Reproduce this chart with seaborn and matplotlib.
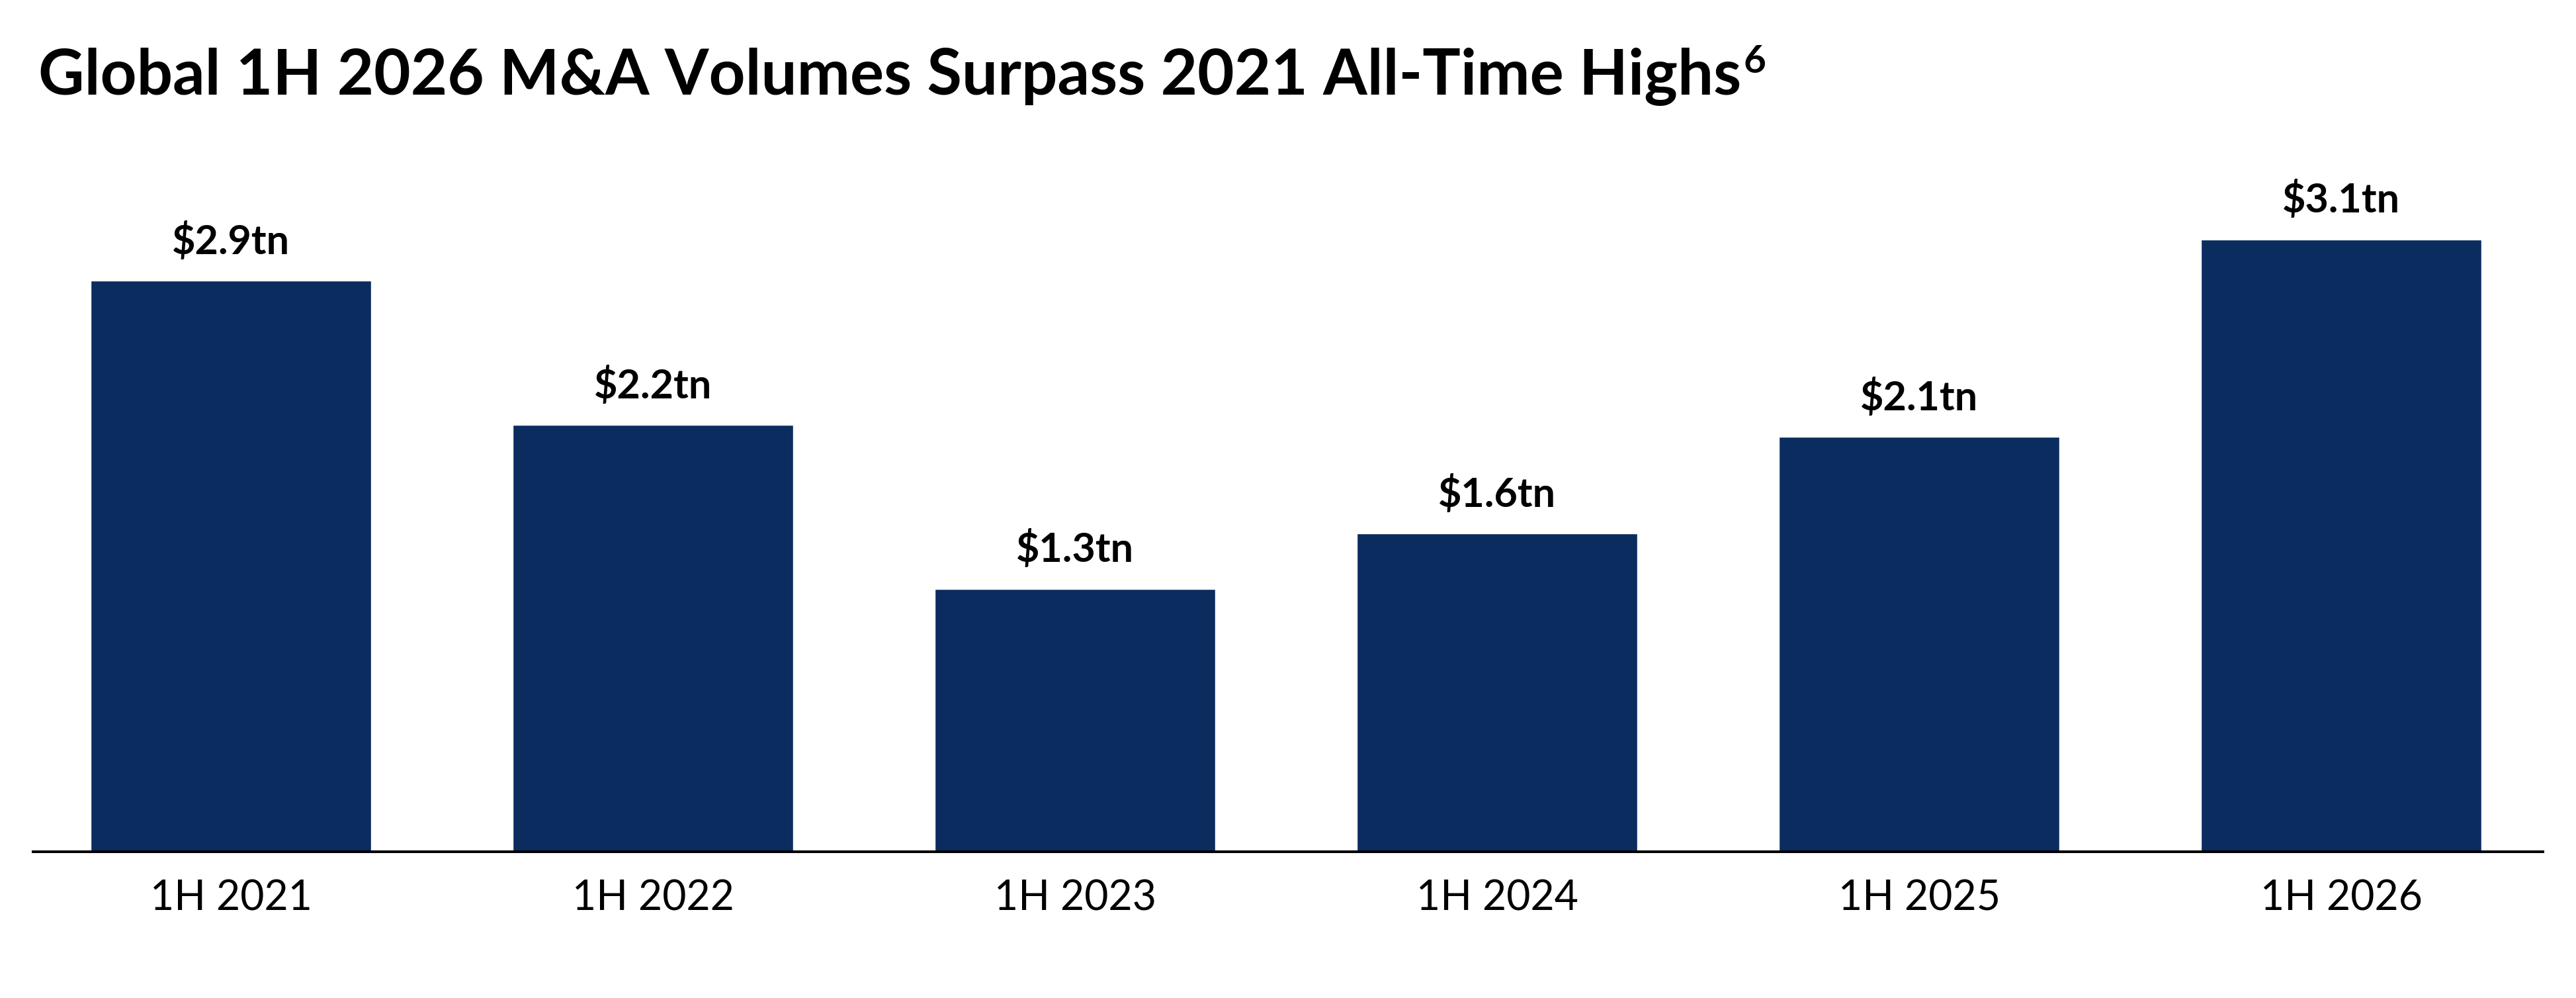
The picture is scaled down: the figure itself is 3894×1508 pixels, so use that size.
import matplotlib

matplotlib.use("Agg")
import matplotlib.pyplot as plt
import seaborn as sns

periods = ["1H 2021", "1H 2022", "1H 2023", "1H 2024", "1H 2025", "1H 2026"]
# bar heights (trillions USD)
volumes = [2.89, 2.16, 1.33, 1.61, 2.10, 3.10]
value_labels = ["$2.9tn", "$2.2tn", "$1.3tn", "$1.6tn", "$2.1tn", "$3.1tn"]

title = "Global 1H 2026 M&A Volumes Surpass 2021 All-Time Highs"
footnote = "6"

bar_color = "#0b2c5f"

sns.set_theme(style="white")
plt.rcParams["font.family"] = ["Lato", "DejaVu Sans"]

W, H = 3894, 1508
fig = plt.figure(figsize=(W / 100, H / 100), dpi=100)
ax = fig.add_axes([50 / W, 1 - 1287 / H, 3794 / W, 1087 / H])

sns.barplot(x=periods, y=volumes, color=bar_color, saturation=1, width=0.665, ax=ax)

ax.set_xlim(-0.469, 5.478)
ax.set_ylim(0, 1087 / 298.5)

for spine in ["top", "right", "left"]:
    ax.spines[spine].set_visible(False)
ax.spines["bottom"].set_color("black")
ax.spines["bottom"].set_linewidth(2.9)
ax.set_yticks([])
ax.set_xlabel("")
ax.set_ylabel("")
ax.tick_params(axis="x", length=0, pad=30, labelsize=45, labelcolor="black")

ax.bar_label(ax.containers[0], labels=value_labels, padding=22,
             fontsize=44, fontweight="bold", color="black")

t = fig.text(58 / W, 1 - 143 / H, title, fontsize=69, fontweight="bold",
             color="black", ha="left", va="baseline")
fig.canvas.draw()
bb = t.get_window_extent(fig.canvas.get_renderer())
fig.text((bb.x1 + 3) / W, 1 - 110 / H, footnote, fontsize=42, fontweight="bold",
         color="black", ha="left", va="baseline")

fig.savefig("out.png", dpi=100)
